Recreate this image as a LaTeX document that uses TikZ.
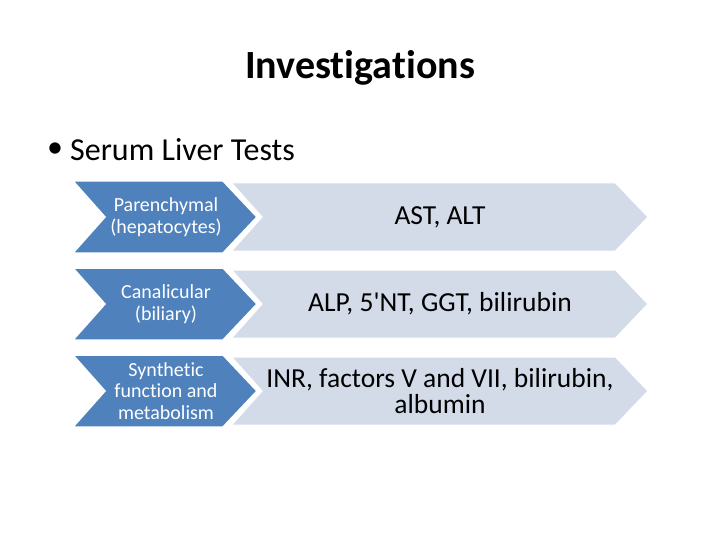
\documentclass[tikz,border=0pt]{standalone}
\usepackage{fontspec}
\setmainfont{Carlito}[Ligatures=CommonOff]
\definecolor{chevblue}{HTML}{4F81BD}
\definecolor{chevlight}{HTML}{D3DBE9}
\begin{document}
\begin{tikzpicture}[x=1pt,y=-1pt,
  bluechev/.style={fill=chevblue,draw=white,line width=1.5pt,line join=miter},
  lightchev/.style={fill=chevlight,draw=none},
  bluetext/.style={text=white,font=\fontsize{20}{21.5}\selectfont,align=center,inner sep=0pt},
  lighttext/.style={text=black,font=\fontsize{27.5}{26.5}\selectfont,align=center,inner sep=0pt}]
\useasboundingbox (0,0) rectangle (720,540);
\node[font=\fontsize{40}{44}\selectfont\bfseries] (title) at (360,68) {Investigations};
\node[anchor=west,inner sep=0pt,font=\fontsize{32}{36}\selectfont] (dot) at (47,150) {\textbullet};
\node[anchor=west,inner sep=0pt,font=\fontsize{32}{36}\selectfont] (bullet) at (70,150) {Serum Liver Tests};
\foreach \c/\bt/\lt [count=\i] in {217/{Parenchymal\\(hepatocytes)}/{AST, ALT},
                        304/{Canalicular\\(biliary)}/{ALP, 5\textquotesingle NT, GGT, bilirubin},
                        391/{Synthetic\\function and\\metabolism}/{INR, factors V and VII, bilirubin,\\albumin}}{
  \path[lightchev] (233,\c-33.5) -- (615,\c-33.5) -- (647,\c) -- (615,\c+33.5) -- (233,\c+33.5) -- (263,\c) -- cycle;
  \path[bluechev] (73,\c-36) -- (223,\c-36) -- (257,\c) -- (223,\c+36) -- (73,\c+36) -- (105,\c) -- cycle;
  \node[bluetext] (b\i) at (166,\c) {\bt};
  \node[lighttext] (l\i) at (440,\c) {\lt};
}
\end{tikzpicture}
\end{document}
